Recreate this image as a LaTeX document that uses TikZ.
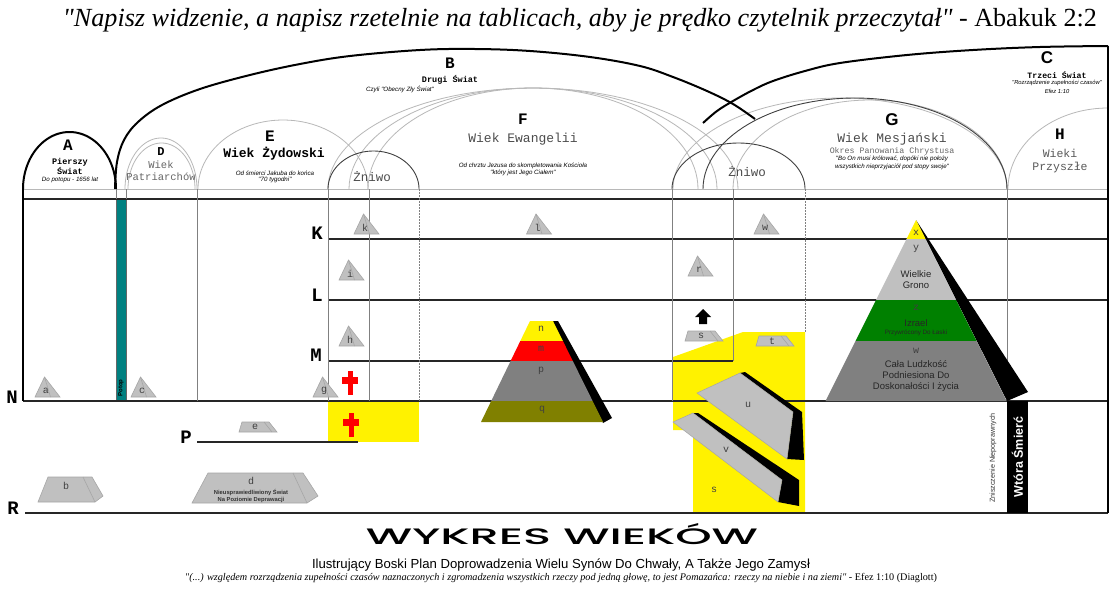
\documentclass[tikz,border=0pt]{standalone}
\usepackage{fontspec}
\usepackage{graphicx}
\setmainfont{Liberation Serif}[Ligatures=TeXOff]
\newfontfamily\monof{Liberation Mono}[Ligatures=TeXOff]
\newfontfamily\sansf{Liberation Sans}[Ligatures=TeXOff]
\newfontfamily\geof{Poppins}[Ligatures=TeXOff,UprightFont={* Medium}]
\definecolor{tealc}{HTML}{008080}
\definecolor{olivec}{HTML}{808000}
\definecolor{greenc}{HTML}{008000}
\definecolor{silverc}{HTML}{C0C0C0}
\definecolor{grayc}{HTML}{808080}
\definecolor{lgray}{HTML}{B8B8B8}
\definecolor{dgray}{HTML}{404040}
\newcommand\myarch[4][]{\draw[#1] plot[domain=180:0,samples=60,variable=\t] ({(#2+#3)/2+(#3-#2)/2*cos(\t)},{189-(189-#4)*sin(\t)});}
\tikzset{
  every node/.style={inner sep=0pt,outer sep=0pt},
  hline/.style={draw=black!85,line width=1.1pt},
  vline/.style={draw=grayc,line width=1pt},
  dline/.style={draw=grayc,line width=0.8pt,dash pattern=on 1.5pt off 1.5pt},
  thickarc/.style={draw=black,line width=2pt},
  thinarc/.style={draw=dgray,line width=0.9pt},
  grayarc/.style={draw=lgray,line width=0.8pt},
  bigletter/.style={font=\monof\bfseries\fontsize{16}{16}\selectfont},
  sansletter/.style={font=\sansf\bfseries\fontsize{17}{17}\selectfont},
  rowletter/.style={font=\monof\bfseries\fontsize{19}{19}\selectfont},
  agetitle/.style={font=\monof\fontsize{13}{13}\selectfont,text=black!70},
  smallbold/.style={font=\monof\bfseries\fontsize{8.5}{8.5}\selectfont},
  smallital/.style={font=\sansf\itshape\fontsize{6.2}{6.2}\selectfont,align=center},
  lbl/.style={font=\monof\fontsize{10}{10}\selectfont,text=black!75},
  pyrtext/.style={font=\sansf\fontsize{9.5}{11}\selectfont,text=black!85,align=center},
  facefill/.style={fill=silverc,draw=black!35,line width=0.6pt},
  pics/tri/.style={code={
    \filldraw[facefill] (-12.5,0) -- (-3,-20) -- (12.5,0) -- cycle;
    \draw[black!35,line width=0.6pt] (-3,-20) -- (3,0);
    \node[lbl] (-tl) at (-1.5,-6) {#1};
  }},
  pics/trap/.style={code={
    \filldraw[facefill] (-19,0) -- (-16,-10) -- (11,-10) -- (19,0) -- cycle;
    \draw[black!35,line width=0.6pt] (6,-10) -- (14,0);
    \node[lbl] (-tl) at (-3,-5) {#1};
  }},
  pics/rcross/.style={code={
    \fill[red] (-2.5,-12) rectangle (2.5,12);
    \fill[red] (-8.3,-6) rectangle (8.3,1);
  }},
}
\begin{document}
\begin{tikzpicture}[x=1pt,y=-1pt]
\useasboundingbox (0,0) rectangle (1118,600);
\fill[white] (0,0) rectangle (1118,600);

% title
\node[anchor=base] (title) at (580,26) {\resizebox{1034pt}{!}{\fontsize{26}{26}\selectfont\itshape "Napisz widzenie, a napisz rzetelnie na tablicach, aby je prędko czytelnik przeczytał"\upshape{} - Abakuk 2:2}};

% yellow regions
\fill[yellow] (328,401) rectangle (419,442);
\fill[yellow] (673,357) -- (743,332) -- (805,332) -- (805,513) -- (693,513) -- (693,430) -- (673,430) -- cycle;

% teal flood bar
\filldraw[fill=tealc,draw=black!60,line width=0.6pt] (116,199) rectangle (126,401);
\node[rotate=90,font=\sansf\bfseries\fontsize{6}{6}\selectfont] (potop) at (121,388) {Potop};

% gray arcs
\myarch[grayarc]{125}{197}{138}
\myarch[grayarc]{128}{195}{143}
\myarch[grayarc]{198}{368}{120}
\myarch[grayarc]{328}{738}{88}
\myarch[grayarc]{349}{717}{88}
\myarch[grayarc]{368}{698}{88}
\myarch[grayarc]{673}{1007}{98}
\myarch[grayarc]{733}{1007}{100}
\draw[grayarc] plot[domain=180:90,samples=40,variable=\t] ({1108+100*cos(\t)},{189-81*sin(\t)});

% thin dark arcs
\myarch[thinarc]{328}{419}{151}
\myarch[thinarc]{672}{805}{143}
\myarch[thinarc]{703}{1007}{98}

% thick arcs
\myarch[thickarc]{23}{116}{132}
\draw[thickarc] plot[smooth,tension=0.6] coordinates {(115,189) (117,162) (124,140) (138,122) (162,105) (200,89) (250,75) (300,64) (350,56) (420,50) (475,49) (530,51) (590,57) (640,66) (673,77) (707,91) (733,104) (755,119)};
\draw[thickarc] plot[smooth,tension=0.6] coordinates {(703,123) (717,111) (733,101) (753,90) (773,81) (805,71) (840,63) (907,55) (973,50) (1040,47) (1108,46)};

% horizontal lines
\draw[draw=lgray,line width=1pt] (23,189) -- (1108,189);
\draw[hline] (23,199) -- (1108,199);
\draw[hline] (328,239) -- (1108,239);
\draw[hline] (328,300) -- (1108,300);
\draw[hline] (328,361) -- (733,361);
\draw[hline] (23,401) -- (1108,401);
\draw[hline] (197,442) -- (358,442);
\draw[hline] (25,513) -- (1108,513);

% vertical lines
\draw[draw=black,line width=1.2pt] (23,189) -- (23,401);
\draw[vline] (116,189) -- (116,199);
\draw[vline] (126,189) -- (126,199);
\draw[vline] (197,189) -- (197,401);
\draw[vline] (328,189) -- (328,401);
\draw[vline] (369,189) -- (369,401);
\draw[dline] (419,189) -- (419,401);
\draw[vline] (672,189) -- (672,401);
\draw[vline] (733,189) -- (733,361);
\draw[dline] (805,189) -- (805,332);
\draw[vline] (1007,189) -- (1007,401);
\draw[draw=black,line width=1.3pt] (1108,46) -- (1108,513);

% row letters
\node[rowletter] (K) at (317,233) {K};
\node[rowletter] (L) at (317,295) {L};
\node[rowletter] (M) at (316,355) {M};
\node[rowletter] (N) at (12,397) {N};
\node[rowletter] (P) at (186,437) {P};
\node[rowletter] (R) at (13,508) {R};

% A
\node[bigletter] (Alet) at (68,145) {A};
\node[smallbold] (A1) at (70,162) {Pierszy};
\node[smallbold] (A2) at (70,171) {Świat};
\node[smallital] (A3) at (70,180) {Do potopu - 1656 lat};
% D
\node[font=\monof\bfseries\fontsize{12}{12}\selectfont] (Dlet) at (161,152) {D};
\node[font=\monof\fontsize{10.5}{10.5}\selectfont,text=black!60] (D1) at (161,165) {Wiek};
\node[font=\monof\fontsize{10.5}{10.5}\selectfont,text=black!60] (D2) at (161,177) {Patriarchów};
% E
\node[bigletter] (Elet) at (270,136) {E};
\node[font=\monof\bfseries\fontsize{13}{13}\selectfont] (E1) at (274,154) {Wiek Żydowski};
\node[smallital] (E2) at (275,173) {Od śmierci Jakuba do końca};
\node[smallital] (E3) at (275,180) {"70 tygodni"};
% B
\node[bigletter] (Blet) at (450,63) {B};
\node[smallbold] (B1) at (450,80) {Drugi Świat};
\node[smallital] (B2) at (400,89) {Czyli "Obecny Zły Świat"};
% F
\node[bigletter] (Flet) at (523,119) {F};
\node[agetitle] (F1) at (523,139) {Wiek Ewangelii};
\node[smallital] (F2) at (523,166) {Od chrztu Jezusa do skompletowania Kościoła};
\node[smallital] (F3) at (523,173) {"który jest Jego Ciałem"};
% Zniwo
\node[agetitle,font=\monof\fontsize{12.5}{12.5}\selectfont] (Z1) at (372,177) {Żniwo};
\node[agetitle,font=\monof\fontsize{12.5}{12.5}\selectfont] (Z2) at (747,172) {Żniwo};
% G
\node[sansletter] (Glet) at (892,120) {G};
\node[agetitle] (G1) at (892,139) {Wiek Mesjański};
\node[font=\monof\fontsize{8.3}{8.3}\selectfont,text=black!60] (G2) at (892,151) {Okres Panowania Chrystusa};
\node[smallital] (G3) at (892,159) {"Bo On musi królować, dopóki nie położy};
\node[smallital] (G4) at (892,167) {wszystkich nieprzyjaciół pod stopy swoje"};
% C
\node[sansletter] (Clet) at (1047,58) {C};
\node[smallbold,font=\monof\bfseries\fontsize{8.2}{8.2}\selectfont] (C1) at (1057,75) {Trzeci Świat};
\node[smallital,font=\sansf\itshape\fontsize{5.8}{5.8}\selectfont] (C2) at (1057,83) {"Rozrządzenie zupełności czasów"};
\node[smallital,font=\sansf\itshape\fontsize{5.8}{5.8}\selectfont] (C3) at (1057,91) {Efez 1:10};
% H
\node[bigletter] (Hlet) at (1060,134) {H};
\node[font=\monof\fontsize{11.5}{11.5}\selectfont,text=black!65] (H1) at (1060,153) {Wieki};
\node[font=\monof\fontsize{11.5}{11.5}\selectfont,text=black!65] (H2) at (1060,168) {Przyszłe};

% small pyramids
\pic (pa) at (47.5,397) {tri=a};
\pic (pc) at (143.5,397) {tri=c};
\pic (pg) at (325.5,397) {tri=g};
\pic (pk) at (366.5,234) {tri=k};
\pic (pi) at (351.5,280) {tri=i};
\pic (ph) at (351.5,346) {tri=h};
\pic (pl) at (539,234) {tri=l};
\pic (pw) at (766.5,234) {tri=w};
\pic (pr) at (700.5,276) {tri=r};
\pic (ps) at (704,341) {trap=s};
\pic (pt) at (775,346) {trap=t};
\pic (pe) at (258,432) {trap=e};

% crosses
\pic (cr1) at (350,383) {rcross};
\pic (cr2) at (351,424.5) {rcross};

% arrow up
\fill[black] (703,309) -- (711,317) -- (707,317) -- (707,324) -- (699,324) -- (699,317) -- (695,317) -- cycle;

% b and d slabs
\filldraw[facefill] (48,477) -- (92,477) -- (103,496) -- (95,502) -- (38,502) -- cycle;
\draw[black!35,line width=0.6pt] (83,477) -- (95,502);
\node[lbl] (bl) at (66,486) {b};
\filldraw[facefill] (208,473) -- (303,473) -- (318,496) -- (307,503) -- (192,503) -- cycle;
\draw[black!35,line width=0.6pt] (293,473) -- (307,503);
\node[lbl] (dl) at (251,481) {d};
\node[font=\sansf\bfseries\fontsize{5.8}{6.5}\selectfont,text=black!80,align=center] (dt) at (251,496) {Nieusprawiedliwiony Świat\\Na Poziomie Deprawacji};

% n m p q pyramid
\fill[black] (552,321) -- (558,321) -- (612,418) -- (603,423) -- cycle;
\fill[yellow] (530,321) -- (553,321) -- (562.9,341) -- (520.3,341) -- cycle;
\fill[red] (520.3,341) -- (562.9,341) -- (572.8,361) -- (510.6,361) -- cycle;
\fill[grayc] (510.6,361) -- (572.8,361) -- (592.6,401) -- (491.2,401) -- cycle;
\fill[olivec] (491.2,401) -- (592.6,401) -- (603,422) -- (481,422) -- cycle;
\node[lbl] (nl) at (541,329) {n};
\node[lbl] (ml) at (541,349) {m};
\node[lbl] (pl2) at (541,371) {p};
\node[lbl] (ql) at (542,410) {q};

% u and v slabs
\fill[black] (740,373) -- (745,372) -- (802,412) -- (804,460) -- (787,459) -- (793,412) -- cycle;
\filldraw[fill=silverc,draw=black!35,line width=0.5pt] (697,393) -- (740,373) -- (793,412) -- (787,459) -- cycle;
\node[lbl] (ul) at (748,405) {u};
\fill[black] (693,413) -- (698,413) -- (799,480) -- (799,506) -- (778,502) -- (782,480) -- cycle;
\filldraw[fill=silverc,draw=black!35,line width=0.5pt] (673,422) -- (693,413) -- (782,480) -- (778,502) -- cycle;
\node[lbl] (vl) at (726,450) {v};
\node[lbl] (sl) at (714,490) {s};

% big pyramid
\fill[black] (916,220) -- (1028,392) -- (1007,401) -- cycle;
\fill[yellow] (916,220) -- (925.5,239) -- (906.5,239) -- cycle;
\fill[silverc] (906.5,239) -- (925.5,239) -- (956,300) -- (876,300) -- cycle;
\fill[greenc] (876,300) -- (956,300) -- (976.5,341) -- (855.5,341) -- cycle;
\fill[grayc] (855.5,341) -- (976.5,341) -- (1006.5,401) -- (825.5,401) -- cycle;
\node[lbl] (xl) at (916,233) {x};
\node[lbl] (yl) at (916,249) {y};
\node[pyrtext] (yt) at (916,280) {Wielkie\\Grono};
\node[lbl] (zl) at (916,308) {z};
\node[pyrtext] (zt) at (916,323) {Izrael};
\node[font=\sansf\fontsize{6.3}{6.3}\selectfont,text=black!85] (zt2) at (916,333) {Przywrócony Do Łaski};
\node[lbl] (wl) at (916,351) {w};
\node[pyrtext] (wt) at (916,375.5) {Cała Ludzkość\\Podniesiona Do\\Doskonałości I życia};

% second death
\fill[black] (1007,401) rectangle (1028,513);
\node[rotate=90,font=\sansf\bfseries\fontsize{12.5}{12.5}\selectfont,text=white] (wt2) at (1017.5,457) {Wtóra Śmierć};
\node[rotate=90,font=\sansf\fontsize{7.2}{7.2}\selectfont,text=black!80] (zn) at (993,458) {Zniszczenie Niepoprawnych};

% bottom texts
\node (wyk) at (562,534) {\resizebox{392pt}{21pt}{\geof\fontsize{20}{20}\selectfont WYKRES WIEKÓW}};
\node (ilu) at (561,565) {\resizebox{498pt}{!}{\sansf\fontsize{12}{12}\selectfont Ilustrujący Boski Plan Doprowadzenia Wielu Synów Do Chwały, A Także Jego Zamysł}};
\node (quo) at (561,578) {\resizebox{752pt}{!}{\fontsize{10}{10}\selectfont\itshape "(...) względem rozrządzenia zupełności czasów naznaczonych i zgromadzenia wszystkich rzeczy pod jedną głowę, to jest Pomazańca: rzeczy na niebie i na ziemi"\upshape{} - Efez 1:10 (Diaglott)}};
\end{tikzpicture}
\end{document}
